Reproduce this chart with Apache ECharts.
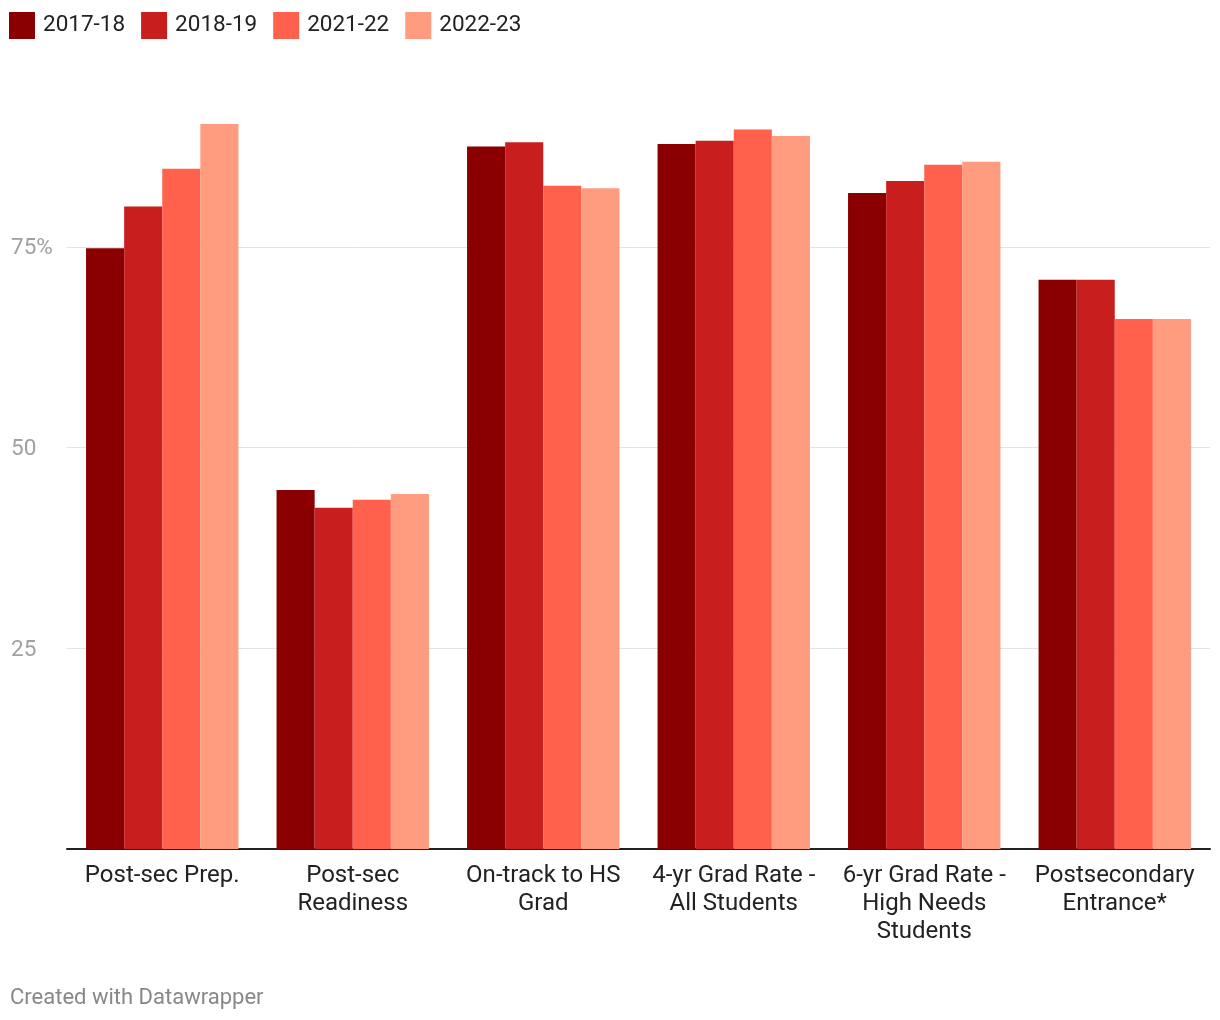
<!DOCTYPE html>
<html><head><meta charset="utf-8">
<script src="https://cdn.jsdelivr.net/npm/echarts@6/dist/echarts.min.js"></script>
<style>html,body{margin:0;padding:0;background:#fff}#c{width:1220px;height:1020px}</style>
</head><body><div id="c"></div>
<script>
const categories = ["Post-sec Prep.", "Post-sec\nReadiness", "On-track to HS\nGrad", "4-yr Grad Rate -\nAll Students", "6-yr Grad Rate -\nHigh Needs\nStudents", "Postsecondary\nEntrance*"];
const seriesNames = ["2017-18", "2018-19", "2021-22", "2022-23"];
const v2017 = [74.8, 44.7, 87.5, 87.8, 81.7, 70.9];
const v2018 = [80.0, 42.5, 88.0, 88.2, 83.2, 70.9];
const v2021 = [84.7, 43.5, 82.6, 89.6, 85.2, 66.0];
const v2022 = [90.3, 44.2, 82.3, 88.8, 85.6, 66.0];
const colors = ["#8a0000", "#c91e1e", "#ff614d", "#ff9b7e"];
const yTicks = [0, 25, 50, 75, 100];

const chart = echarts.init(document.getElementById('c'));
const data = [v2017, v2018, v2021, v2022];
chart.setOption({
  animation: false,
  textStyle: {fontFamily: 'Roboto'},
  legend: {
    left: 4, top: 7, itemWidth: 26, itemHeight: 27, itemGap: 16,
    icon: 'rect',
    textStyle: {fontSize: 22.5, color: '#222', fontFamily: 'Roboto', padding: [5, 0, 0, 3]},
    data: seriesNames
  },
  graphic: [{type: 'text', left: 10, top: 987, style: {text: 'Created with Datawrapper', fontSize: 22, fill: '#888', fontFamily: 'Roboto'}}],
  grid: {left: 67, right: 10, top: 46, bottom: 171},
  xAxis: {
    type: 'category', data: categories,
    axisLine: {lineStyle: {color: '#222', width: 2}},
    axisTick: {show: false},
    axisLabel: {fontSize: 24, color: '#222', lineHeight: 28, margin: 13, interval: 0, fontFamily: 'Roboto'}
  },
  yAxis: {
    type: 'value', min: yTicks[0], max: yTicks[yTicks.length - 1], interval: 25,
    axisLine: {show: false}, axisTick: {show: false},
    splitLine: {lineStyle: {color: '#e3e3e3', width: 1}, showMinLine: false, showMaxLine: false},
    axisLabel: {
      showMinLabel: false, showMaxLabel: false,
      fontSize: 22.5, color: '#a0a0a0', align: 'left', margin: 56, fontFamily: 'Roboto',
      formatter: v => '{a|' + (v === 75 ? '75%' : String(v)) + '}',
      rich: {a: {fontSize: 22.5, color: '#a0a0a0', fontFamily: 'Roboto', padding: [4, 0, 0, 0]}}
    }
  },
  series: seriesNames.map((n, i) => ({
    name: n, type: 'bar', data: data[i], barGap: '0%', barCategoryGap: '20%',
    itemStyle: {color: colors[i]}
  }))
});
</script></body></html>
